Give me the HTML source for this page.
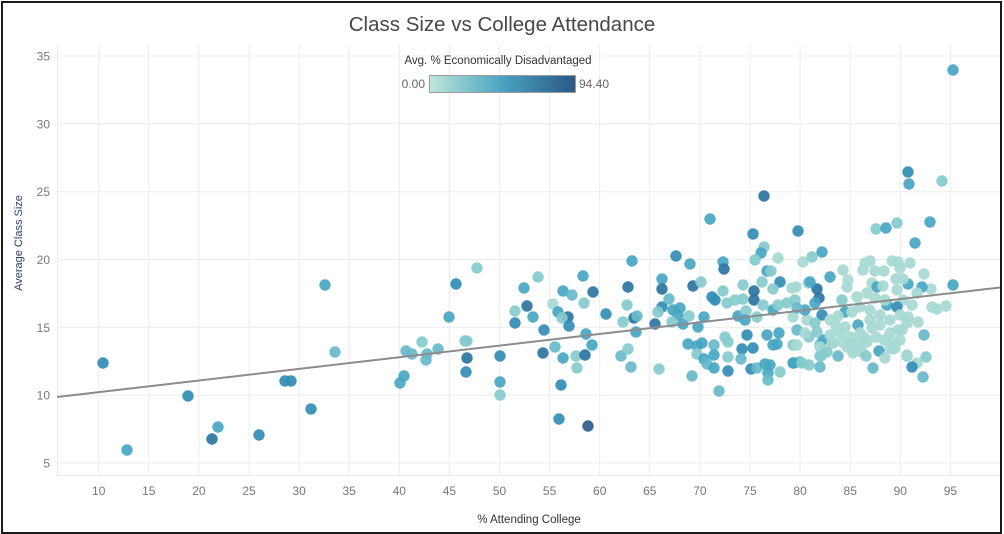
<!DOCTYPE html>
<html><head><meta charset="utf-8">
<style>
html,body{margin:0;padding:0;background:#fff;}
body{width:1004px;height:534px;position:relative;overflow:hidden;font-family:"Liberation Sans",sans-serif;}
.frame{position:absolute;left:1px;top:1px;width:997px;height:529px;border:2px solid #1a1a1a;}
svg{position:absolute;left:0;top:0;}
.a{fill:#a6d9d3}.b{fill:#86cbcd}.c{fill:#67bacb}.d{fill:#47a6c2}.e{fill:#328db5}.f{fill:#2b74a2}.g{fill:#2c5b8a}
circle{opacity:0.92}
</style></head>
<body>
<svg width="1004" height="534" viewBox="0 0 1004 534" xmlns="http://www.w3.org/2000/svg">
<defs>
<linearGradient id="lg" x1="0" x2="1" y1="0" y2="0">
<stop offset="0" stop-color="#bfe5da"/>
<stop offset="0.5" stop-color="#48a3c0"/>
<stop offset="1" stop-color="#2c5786"/>
</linearGradient>
<clipPath id="cp"><rect x="57" y="45" width="943" height="431"/></clipPath>
</defs>
<g stroke="#ececec" stroke-width="1">
<line x1="57.5" y1="45" x2="57.5" y2="476"/>
<line x1="98.7" y1="45" x2="98.7" y2="476"/>
<line x1="148.8" y1="45" x2="148.8" y2="476"/>
<line x1="198.9" y1="45" x2="198.9" y2="476"/>
<line x1="249" y1="45" x2="249" y2="476"/>
<line x1="299.1" y1="45" x2="299.1" y2="476"/>
<line x1="349.2" y1="45" x2="349.2" y2="476"/>
<line x1="399.3" y1="45" x2="399.3" y2="476"/>
<line x1="449.4" y1="45" x2="449.4" y2="476"/>
<line x1="499.5" y1="45" x2="499.5" y2="476"/>
<line x1="549.6" y1="45" x2="549.6" y2="476"/>
<line x1="599.7" y1="45" x2="599.7" y2="476"/>
<line x1="649.8" y1="45" x2="649.8" y2="476"/>
<line x1="699.9" y1="45" x2="699.9" y2="476"/>
<line x1="750" y1="45" x2="750" y2="476"/>
<line x1="800.1" y1="45" x2="800.1" y2="476"/>
<line x1="850.2" y1="45" x2="850.2" y2="476"/>
<line x1="900.3" y1="45" x2="900.3" y2="476"/>
<line x1="950.4" y1="45" x2="950.4" y2="476"/>
<line x1="57" y1="56" x2="1000" y2="56"/>
<line x1="57" y1="123.8" x2="1000" y2="123.8"/>
<line x1="57" y1="191.7" x2="1000" y2="191.7"/>
<line x1="57" y1="259.5" x2="1000" y2="259.5"/>
<line x1="57" y1="327.3" x2="1000" y2="327.3"/>
<line x1="57" y1="395.2" x2="1000" y2="395.2"/>
<line x1="57" y1="463" x2="1000" y2="463"/>
<line x1="57" y1="475.5" x2="1000" y2="475.5"/>
</g>
<text x="502" y="31" text-anchor="middle" font-size="20.5" fill="#474747" font-family="Liberation Sans, sans-serif">Class Size vs College Attendance</text>
<text x="498" y="64" text-anchor="middle" font-size="11.5" fill="#333">Avg. % Economically Disadvantaged</text>
<rect x="429.5" y="75.5" width="146" height="17" fill="url(#lg)" stroke="#9a9a9a" stroke-width="1"/>
<text x="425" y="88" text-anchor="end" font-size="12" fill="#666">0.00</text>
<text x="579" y="88" text-anchor="start" font-size="12" fill="#666">94.40</text>
<g font-size="12" fill="#777" text-anchor="end">
<text x="50" y="60.5">35</text>
<text x="50" y="128.3">30</text>
<text x="50" y="196.2">25</text>
<text x="50" y="264">20</text>
<text x="50" y="331.8">15</text>
<text x="50" y="399.7">10</text>
<text x="50" y="467.5">5</text>
</g>
<g font-size="12" fill="#777" text-anchor="middle">
<text x="98.7" y="495">10</text>
<text x="148.8" y="495">15</text>
<text x="198.9" y="495">20</text>
<text x="249" y="495">25</text>
<text x="299.1" y="495">30</text>
<text x="349.2" y="495">35</text>
<text x="399.3" y="495">40</text>
<text x="449.4" y="495">45</text>
<text x="499.5" y="495">50</text>
<text x="549.6" y="495">55</text>
<text x="599.7" y="495">60</text>
<text x="649.8" y="495">65</text>
<text x="699.9" y="495">70</text>
<text x="750" y="495">75</text>
<text x="800.1" y="495">80</text>
<text x="850.2" y="495">85</text>
<text x="900.3" y="495">90</text>
<text x="950.4" y="495">95</text>
</g>
<text x="529" y="523" text-anchor="middle" font-size="11.5" fill="#333">% Attending College</text>
<text transform="translate(22,243) rotate(-90)" text-anchor="middle" font-size="11" fill="#2a3f66">Average Class Size</text>
<g clip-path="url(#cp)">
<circle class="e" cx="103" cy="363" r="5.7"/>
<circle class="d" cx="127" cy="450" r="5.7"/>
<circle class="e" cx="188" cy="396" r="5.7"/>
<circle class="f" cx="212" cy="439" r="5.7"/>
<circle class="d" cx="218" cy="427" r="5.7"/>
<circle class="e" cx="259" cy="435" r="5.7"/>
<circle class="e" cx="285" cy="381" r="5.7"/>
<circle class="e" cx="291" cy="381" r="5.7"/>
<circle class="e" cx="311" cy="409" r="5.7"/>
<circle class="d" cx="325" cy="285" r="5.7"/>
<circle class="c" cx="335" cy="352" r="5.7"/>
<circle class="d" cx="400" cy="383" r="5.7"/>
<circle class="d" cx="404" cy="376" r="5.7"/>
<circle class="c" cx="406" cy="351" r="5.7"/>
<circle class="c" cx="412" cy="354" r="5.7"/>
<circle class="b" cx="422" cy="342" r="5.7"/>
<circle class="c" cx="427" cy="354" r="5.7"/>
<circle class="c" cx="426" cy="360" r="5.7"/>
<circle class="c" cx="438" cy="349" r="5.7"/>
<circle class="d" cx="449" cy="317" r="5.7"/>
<circle class="e" cx="456" cy="284" r="5.7"/>
<circle class="b" cx="477" cy="268" r="5.7"/>
<circle class="b" cx="465" cy="341" r="5.7"/>
<circle class="b" cx="467" cy="341" r="5.7"/>
<circle class="f" cx="467" cy="358" r="5.7"/>
<circle class="e" cx="466" cy="372" r="5.7"/>
<circle class="e" cx="500" cy="356" r="5.7"/>
<circle class="d" cx="500" cy="382" r="5.7"/>
<circle class="b" cx="500" cy="395" r="5.7"/>
<circle class="b" cx="515" cy="311" r="5.7"/>
<circle class="e" cx="515" cy="323" r="5.7"/>
<circle class="d" cx="524" cy="288" r="5.7"/>
<circle class="f" cx="527" cy="306" r="5.7"/>
<circle class="d" cx="533" cy="317" r="5.7"/>
<circle class="b" cx="538" cy="277" r="5.7"/>
<circle class="e" cx="544" cy="330" r="5.7"/>
<circle class="f" cx="543" cy="353" r="5.7"/>
<circle class="c" cx="555" cy="347" r="5.7"/>
<circle class="a" cx="553" cy="304" r="5.7"/>
<circle class="d" cx="558" cy="312" r="5.7"/>
<circle class="d" cx="563" cy="291" r="5.7"/>
<circle class="f" cx="568" cy="317" r="5.7"/>
<circle class="b" cx="562" cy="318" r="5.7"/>
<circle class="e" cx="569" cy="326" r="5.7"/>
<circle class="c" cx="572" cy="295" r="5.7"/>
<circle class="d" cx="563" cy="358" r="5.7"/>
<circle class="e" cx="561" cy="385" r="5.7"/>
<circle class="e" cx="559" cy="419" r="5.7"/>
<circle class="g" cx="588" cy="426" r="5.7"/>
<circle class="d" cx="583" cy="276" r="5.7"/>
<circle class="f" cx="593" cy="292" r="5.7"/>
<circle class="b" cx="584" cy="303" r="5.7"/>
<circle class="d" cx="586" cy="334" r="5.7"/>
<circle class="d" cx="592" cy="345" r="5.7"/>
<circle class="b" cx="576" cy="356" r="5.7"/>
<circle class="f" cx="585" cy="355" r="5.7"/>
<circle class="b" cx="577" cy="368" r="5.7"/>
<circle class="e" cx="606" cy="314" r="5.7"/>
<circle class="c" cx="621" cy="356" r="5.7"/>
<circle class="b" cx="623" cy="322" r="5.7"/>
<circle class="b" cx="627" cy="305" r="5.7"/>
<circle class="f" cx="628" cy="287" r="5.7"/>
<circle class="d" cx="632" cy="261" r="5.7"/>
<circle class="c" cx="631" cy="367" r="5.7"/>
<circle class="d" cx="710" cy="219" r="5.7"/>
<circle class="f" cx="634" cy="318" r="5.7"/>
<circle class="c" cx="637" cy="316" r="5.7"/>
<circle class="d" cx="636" cy="332" r="5.7"/>
<circle class="b" cx="628" cy="349" r="5.7"/>
<circle class="b" cx="659" cy="369" r="5.7"/>
<circle class="e" cx="676" cy="256" r="5.7"/>
<circle class="d" cx="690" cy="264" r="5.7"/>
<circle class="d" cx="662" cy="279" r="5.7"/>
<circle class="f" cx="662" cy="289" r="5.7"/>
<circle class="e" cx="662" cy="307" r="5.7"/>
<circle class="f" cx="655" cy="324" r="5.7"/>
<circle class="b" cx="658" cy="312" r="5.7"/>
<circle class="c" cx="669" cy="299" r="5.7"/>
<circle class="d" cx="673" cy="310" r="5.7"/>
<circle class="d" cx="680" cy="308" r="5.7"/>
<circle class="d" cx="678" cy="315" r="5.7"/>
<circle class="b" cx="672" cy="322" r="5.7"/>
<circle class="d" cx="683" cy="324" r="5.7"/>
<circle class="b" cx="689" cy="316" r="5.7"/>
<circle class="f" cx="693" cy="286" r="5.7"/>
<circle class="b" cx="701" cy="282" r="5.7"/>
<circle class="d" cx="704" cy="317" r="5.7"/>
<circle class="d" cx="698" cy="327" r="5.7"/>
<circle class="e" cx="712" cy="297" r="5.7"/>
<circle class="e" cx="715" cy="300" r="5.7"/>
<circle class="b" cx="723" cy="291" r="5.7"/>
<circle class="d" cx="723" cy="262" r="5.7"/>
<circle class="f" cx="724" cy="269" r="5.7"/>
<circle class="b" cx="727" cy="303" r="5.7"/>
<circle class="b" cx="735" cy="300" r="5.7"/>
<circle class="b" cx="743" cy="285" r="5.7"/>
<circle class="b" cx="743" cy="299" r="5.7"/>
<circle class="d" cx="738" cy="316" r="5.7"/>
<circle class="b" cx="746" cy="311" r="5.7"/>
<circle class="d" cx="745" cy="320" r="5.7"/>
<circle class="e" cx="753" cy="234" r="5.7"/>
<circle class="b" cx="764" cy="247" r="5.7"/>
<circle class="d" cx="761" cy="253" r="5.7"/>
<circle class="b" cx="755" cy="260" r="5.7"/>
<circle class="a" cx="778" cy="258" r="5.7"/>
<circle class="d" cx="767" cy="271" r="5.7"/>
<circle class="b" cx="771" cy="271" r="5.7"/>
<circle class="e" cx="780" cy="282" r="5.7"/>
<circle class="b" cx="773" cy="289" r="5.7"/>
<circle class="b" cx="762" cy="282" r="5.7"/>
<circle class="f" cx="754" cy="291" r="5.7"/>
<circle class="f" cx="754" cy="300" r="5.7"/>
<circle class="b" cx="763" cy="305" r="5.7"/>
<circle class="d" cx="773" cy="310" r="5.7"/>
<circle class="b" cx="778" cy="305" r="5.7"/>
<circle class="b" cx="757" cy="317" r="5.7"/>
<circle class="e" cx="798" cy="231" r="5.7"/>
<circle class="a" cx="803" cy="262" r="5.7"/>
<circle class="a" cx="808" cy="283" r="5.7"/>
<circle class="a" cx="792" cy="288" r="5.7"/>
<circle class="b" cx="795" cy="300" r="5.7"/>
<circle class="b" cx="787" cy="303" r="5.7"/>
<circle class="a" cx="793" cy="317" r="5.7"/>
<circle class="a" cx="807" cy="320" r="5.7"/>
<circle class="d" cx="805" cy="310" r="5.7"/>
<circle class="f" cx="764" cy="196" r="5.7"/>
<circle class="c" cx="692" cy="376" r="5.7"/>
<circle class="d" cx="688" cy="344" r="5.7"/>
<circle class="d" cx="697" cy="346" r="5.7"/>
<circle class="d" cx="702" cy="343" r="5.7"/>
<circle class="b" cx="697" cy="354" r="5.7"/>
<circle class="d" cx="704" cy="359" r="5.7"/>
<circle class="c" cx="707" cy="364" r="5.7"/>
<circle class="c" cx="714" cy="345" r="5.7"/>
<circle class="d" cx="714" cy="355" r="5.7"/>
<circle class="d" cx="714" cy="368" r="5.7"/>
<circle class="c" cx="719" cy="391" r="5.7"/>
<circle class="b" cx="728" cy="357" r="5.7"/>
<circle class="e" cx="728" cy="371" r="5.7"/>
<circle class="b" cx="725" cy="337" r="5.7"/>
<circle class="b" cx="728" cy="342" r="5.7"/>
<circle class="e" cx="742" cy="349" r="5.7"/>
<circle class="c" cx="741" cy="359" r="5.7"/>
<circle class="e" cx="747" cy="335" r="5.7"/>
<circle class="e" cx="753" cy="348" r="5.7"/>
<circle class="e" cx="751" cy="369" r="5.7"/>
<circle class="c" cx="757" cy="368" r="5.7"/>
<circle class="d" cx="765" cy="364" r="5.7"/>
<circle class="d" cx="770" cy="365" r="5.7"/>
<circle class="d" cx="768" cy="373" r="5.7"/>
<circle class="c" cx="768" cy="380" r="5.7"/>
<circle class="b" cx="780" cy="372" r="5.7"/>
<circle class="d" cx="767" cy="335" r="5.7"/>
<circle class="d" cx="773" cy="345" r="5.7"/>
<circle class="d" cx="777" cy="344" r="5.7"/>
<circle class="d" cx="779" cy="333" r="5.7"/>
<circle class="b" cx="793" cy="345" r="5.7"/>
<circle class="d" cx="794" cy="363" r="5.7"/>
<circle class="c" cx="800" cy="362" r="5.7"/>
<circle class="b" cx="809" cy="365" r="5.7"/>
<circle class="c" cx="820" cy="367" r="5.7"/>
<circle class="b" cx="820" cy="356" r="5.7"/>
<circle class="b" cx="809" cy="337" r="5.7"/>
<circle class="c" cx="820" cy="345" r="5.7"/>
<circle class="d" cx="823" cy="340" r="5.7"/>
<circle class="b" cx="833" cy="343" r="5.7"/>
<circle class="c" cx="838" cy="356" r="5.7"/>
<circle class="a" cx="847" cy="347" r="5.7"/>
<circle class="a" cx="853" cy="350" r="5.7"/>
<circle class="a" cx="860" cy="348" r="5.7"/>
<circle class="a" cx="857" cy="343" r="5.7"/>
<circle class="a" cx="867" cy="342" r="5.7"/>
<circle class="d" cx="879" cy="351" r="5.7"/>
<circle class="c" cx="873" cy="368" r="5.7"/>
<circle class="a" cx="893" cy="349" r="5.7"/>
<circle class="a" cx="900" cy="340" r="5.7"/>
<circle class="b" cx="907" cy="356" r="5.7"/>
<circle class="a" cx="917" cy="363" r="5.7"/>
<circle class="b" cx="926" cy="357" r="5.7"/>
<circle class="c" cx="923" cy="377" r="5.7"/>
<circle class="c" cx="924" cy="335" r="5.7"/>
<circle class="e" cx="912" cy="367" r="5.7"/>
<circle class="b" cx="876" cy="229" r="5.7"/>
<circle class="d" cx="886" cy="228" r="5.7"/>
<circle class="b" cx="897" cy="223" r="5.7"/>
<circle class="d" cx="930" cy="222" r="5.7"/>
<circle class="d" cx="915" cy="243" r="5.7"/>
<circle class="d" cx="822" cy="252" r="5.7"/>
<circle class="b" cx="812" cy="257" r="5.7"/>
<circle class="d" cx="830" cy="277" r="5.7"/>
<circle class="a" cx="843" cy="270" r="5.7"/>
<circle class="a" cx="863" cy="270" r="5.7"/>
<circle class="a" cx="865" cy="263" r="5.7"/>
<circle class="a" cx="870" cy="261" r="5.7"/>
<circle class="a" cx="875" cy="271" r="5.7"/>
<circle class="a" cx="884" cy="271" r="5.7"/>
<circle class="a" cx="892" cy="261" r="5.7"/>
<circle class="a" cx="898" cy="262" r="5.7"/>
<circle class="a" cx="900" cy="268" r="5.7"/>
<circle class="a" cx="910" cy="263" r="5.7"/>
<circle class="a" cx="924" cy="274" r="5.7"/>
<circle class="d" cx="953" cy="285" r="5.7"/>
<circle class="a" cx="931" cy="289" r="5.7"/>
<circle class="d" cx="922" cy="287" r="5.7"/>
<circle class="d" cx="908" cy="284" r="5.7"/>
<circle class="a" cx="903" cy="279" r="5.7"/>
<circle class="a" cx="896" cy="279" r="5.7"/>
<circle class="a" cx="917" cy="293" r="5.7"/>
<circle class="a" cx="903" cy="300" r="5.7"/>
<circle class="a" cx="897" cy="290" r="5.7"/>
<circle class="a" cx="872" cy="283" r="5.7"/>
<circle class="d" cx="877" cy="287" r="5.7"/>
<circle class="a" cx="883" cy="286" r="5.7"/>
<circle class="a" cx="848" cy="280" r="5.7"/>
<circle class="a" cx="847" cy="287" r="5.7"/>
<circle class="a" cx="857" cy="297" r="5.7"/>
<circle class="a" cx="867" cy="293" r="5.7"/>
<circle class="f" cx="817" cy="289" r="5.7"/>
<circle class="d" cx="810" cy="282" r="5.7"/>
<circle class="a" cx="796" cy="287" r="5.7"/>
<circle class="f" cx="819" cy="298" r="5.7"/>
<circle class="d" cx="815" cy="303" r="5.7"/>
<circle class="c" cx="797" cy="308" r="5.7"/>
<circle class="e" cx="822" cy="315" r="5.7"/>
<circle class="d" cx="845" cy="312" r="5.7"/>
<circle class="b" cx="842" cy="300" r="5.7"/>
<circle class="a" cx="852" cy="312" r="5.7"/>
<circle class="a" cx="860" cy="307" r="5.7"/>
<circle class="a" cx="870" cy="310" r="5.7"/>
<circle class="d" cx="887" cy="305" r="5.7"/>
<circle class="e" cx="897" cy="307" r="5.7"/>
<circle class="a" cx="880" cy="315" r="5.7"/>
<circle class="a" cx="890" cy="320" r="5.7"/>
<circle class="a" cx="900" cy="315" r="5.7"/>
<circle class="a" cx="908" cy="317" r="5.7"/>
<circle class="a" cx="932" cy="307" r="5.7"/>
<circle class="a" cx="937" cy="309" r="5.7"/>
<circle class="a" cx="946" cy="306" r="5.7"/>
<circle class="a" cx="830" cy="320" r="5.7"/>
<circle class="d" cx="858" cy="325" r="5.7"/>
<circle class="a" cx="870" cy="320" r="5.7"/>
<circle class="c" cx="797" cy="330" r="5.7"/>
<circle class="a" cx="805" cy="333" r="5.7"/>
<circle class="b" cx="815" cy="323" r="5.7"/>
<circle class="b" cx="817" cy="332" r="5.7"/>
<circle class="a" cx="830" cy="335" r="5.7"/>
<circle class="a" cx="840" cy="333" r="5.7"/>
<circle class="a" cx="850" cy="337" r="5.7"/>
<circle class="a" cx="860" cy="333" r="5.7"/>
<circle class="a" cx="872" cy="328" r="5.7"/>
<circle class="a" cx="880" cy="325" r="5.7"/>
<circle class="a" cx="890" cy="333" r="5.7"/>
<circle class="a" cx="898" cy="330" r="5.7"/>
<circle class="a" cx="907" cy="323" r="5.7"/>
<circle class="a" cx="893" cy="342" r="5.7"/>
<circle class="a" cx="797" cy="345" r="5.7"/>
<circle class="a" cx="820" cy="347" r="5.7"/>
<circle class="a" cx="832" cy="343" r="5.7"/>
<circle class="a" cx="842" cy="342" r="5.7"/>
<circle class="a" cx="850" cy="343" r="5.7"/>
<circle class="a" cx="862" cy="352" r="5.7"/>
<circle class="a" cx="853" cy="353" r="5.7"/>
<circle class="a" cx="890" cy="348" r="5.7"/>
<circle class="a" cx="895" cy="348" r="5.7"/>
<circle class="b" cx="821" cy="356" r="5.7"/>
<circle class="d" cx="793" cy="363" r="5.7"/>
<circle class="b" cx="802" cy="363" r="5.7"/>
<circle class="a" cx="907" cy="355" r="5.7"/>
<circle class="a" cx="865" cy="338" r="5.7"/>
<circle class="a" cx="876" cy="337" r="5.7"/>
<circle class="a" cx="884" cy="340" r="5.7"/>
<circle class="a" cx="845" cy="327" r="5.7"/>
<circle class="a" cx="836" cy="326" r="5.7"/>
<circle class="a" cx="885" cy="300" r="5.7"/>
<circle class="a" cx="875" cy="298" r="5.7"/>
<circle class="a" cx="912" cy="305" r="5.7"/>
<circle class="a" cx="918" cy="322" r="5.7"/>
<circle class="a" cx="838" cy="316" r="5.7"/>
<circle class="b" cx="866" cy="356" r="5.7"/>
<circle class="a" cx="885" cy="358" r="5.7"/>
<circle class="a" cx="902" cy="330" r="5.7"/>
<circle class="b" cx="827" cy="352" r="5.7"/>
<circle class="e" cx="908" cy="172" r="5.7"/>
<circle class="d" cx="909" cy="184" r="5.7"/>
<circle class="b" cx="942" cy="181" r="5.7"/>
<circle class="d" cx="953" cy="70" r="5.7"/>
</g>
<line x1="57" y1="397" x2="1000" y2="287.5" stroke="#8c8c8c" stroke-width="2"/>
</svg>
<div class="frame"></div>
</body></html>
